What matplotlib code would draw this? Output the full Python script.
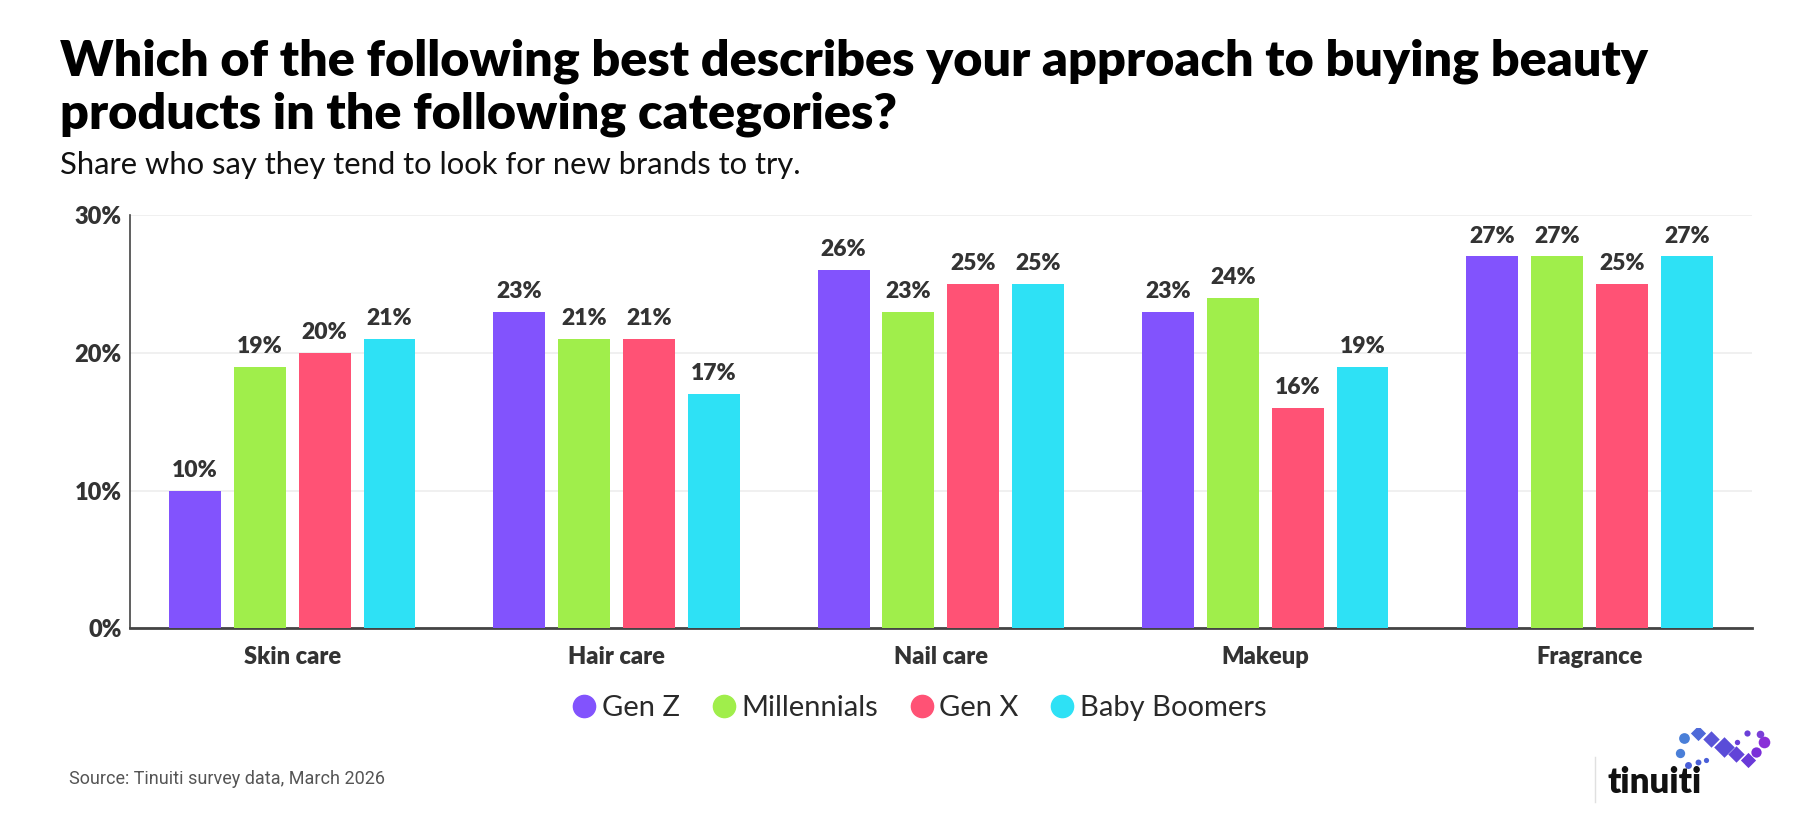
import numpy as np
import matplotlib
matplotlib.use("Agg")
import matplotlib.pyplot as plt
from matplotlib.lines import Line2D

categories = ["Skin care", "Hair care", "Nail care", "Makeup", "Fragrance"]
groups = ["Gen Z", "Millennials", "Gen X", "Baby Boomers"]
gen_z = [10, 23, 26, 23, 27]
millennials = [19, 21, 23, 24, 27]
gen_x = [20, 21, 25, 16, 25]
boomers = [21, 17, 25, 19, 27]
colors = ["#8253FD", "#A0EE4B", "#FF5275", "#2EE1F5"]

series = [gen_z, millennials, gen_x, boomers]

plt.rcParams['font.family'] = ['Lato', 'DejaVu Sans']
txt = "#333333"

fig = plt.figure(figsize=(18.08, 8.18), dpi=100)
ax = fig.add_axes([0.0719, 0.232, 0.897, 0.505])

x = np.arange(len(categories))
w = 0.16
step = 0.2
for i, vals in enumerate(series):
    pos = x + (i - 1.5) * step
    bars = ax.bar(pos, vals, width=w, color=colors[i], zorder=3)
    for b, v in zip(bars, vals):
        ax.annotate(f"{v}%", (b.get_x() + b.get_width() / 2, v),
                    xytext=(0, 7), textcoords="offset points",
                    ha="center", va="bottom", fontsize=16.5, fontweight="heavy", color=txt)

ax.set_xlim(-0.5, len(categories) - 0.5)
ax.set_ylim(0, 30)
ax.set_yticks([0, 10, 20, 30])
ax.set_yticklabels([f"{t}%" for t in [0, 10, 20, 30]], fontsize=17, fontweight="heavy", color=txt)
ax.set_xticks(x)
ax.set_xticklabels(categories, fontsize=17, fontweight="heavy", color=txt)
ax.tick_params(axis="y", length=0, pad=6)
ax.tick_params(axis="x", length=0, pad=13)
ax.grid(axis="y", color="#eeeeee", linewidth=1.2, zorder=0)
for s in ["top", "right"]:
    ax.spines[s].set_visible(False)
ax.spines["left"].set_color("#444444")
ax.spines["left"].set_linewidth(1.2)
ax.spines["bottom"].set_color("#444444")
ax.spines["bottom"].set_linewidth(2)

handles = [Line2D([], [], marker="o", linestyle="", markersize=16, color=c) for c in colors]
leg = fig.legend(handles, groups, loc="center", bbox_to_anchor=(0.507, 0.134), ncol=4,
                 frameon=False, fontsize=21, handletextpad=0.0, columnspacing=0.9,
                 handlelength=1.2)
for t in leg.get_texts():
    t.set_color("#2a2a2a")

fig.text(0.033, 0.925, "Which of the following best describes your approach to buying beauty",
         fontsize=36.3, fontweight="heavy", color="#000000", va="center")
fig.text(0.033, 0.860, "products in the following categories?",
         fontsize=36.3, fontweight="heavy", color="#000000", va="center")
fig.text(0.033, 0.798, "Share who say they tend to look for new brands to try.",
         fontsize=22.3, color="#111111", va="center")
fig.text(0.038, 0.048, "Source: Tinuiti survey data, March 2026", fontsize=13,
         color="#555555", va="center", family=["Roboto", "DejaVu Sans"])

# logo
fig.text(0.889, 0.043, "tinuiti", fontsize=25, fontweight="heavy", color="#111111", va="center")
fig.add_artist(Line2D([0.882, 0.882], [0.02, 0.075], color="#e0e0e0", lw=1, transform=fig.transFigure))
lax = fig.add_axes([0.925, 0.055, 0.055, 0.055])
lax.set_xlim(0, 10)
lax.set_ylim(0, 10)
lax.axis("off")
dots_x = [0.8, 1.2, 2.6, 3.9, 5.2, 6.4, 7.6, 8.4, 9.2, 8.8, 7.5, 6.5, 1.6, 2.6, 3.4]
dots_y = [4.5, 7.8, 8.8, 7.6, 5.8, 4.2, 3.0, 4.6, 6.8, 8.6, 9.0, 7.0, 1.8, 2.4, 3.0]
dot_c = ["#4a7fd8", "#4a7fd8", "#4f6ad8", "#5a55d8", "#5a4cd8", "#6244d8", "#6a3ad8", "#7a2fd8",
         "#8a2fd8", "#7a3fd8", "#6a3fd8", "#6a3fd8", "#4a5fd8", "#4a5fd8", "#4a5fd8"]
dot_s = [45, 60, 60, 70, 110, 70, 60, 55, 70, 30, 20, 15, 25, 18, 14]
dot_m = ["o", "o", "D", "D", "D", "D", "D", "o", "o", "o", "o", "o", "o", "o", "o"]
for dx, dy, dc, ds, dm in zip(dots_x, dots_y, dot_c, dot_s, dot_m):
    lax.scatter(dx, dy, s=ds, c=dc, marker=dm, linewidths=0)

fig.savefig("out.png", dpi=100, facecolor="white")
